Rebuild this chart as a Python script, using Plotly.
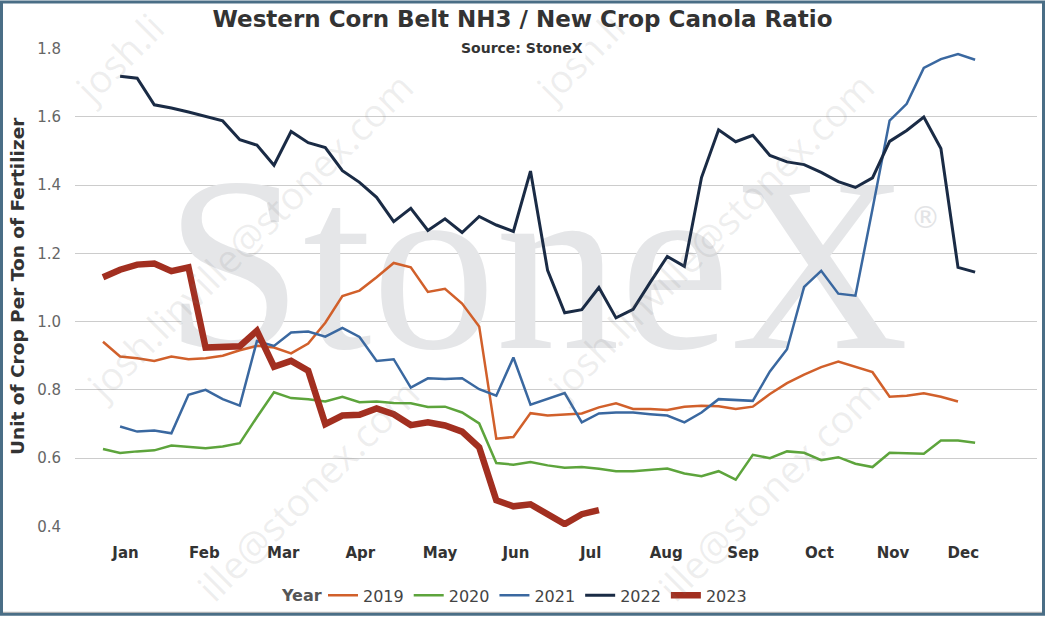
import math
import plotly.graph_objects as go

# ---------------- data ----------------
month_labels = ["Jan", "Feb", "Mar", "Apr", "May", "Jun", "Jul", "Aug", "Sep", "Oct", "Nov", "Dec"]
month_weeks = [2.32, 6.93, 11.54, 16.05, 20.71, 25.15, 29.52, 33.94, 38.44, 42.90, 47.20, 51.31]

years = ["2019", "2020", "2021", "2022", "2023"]

wk_2019 = list(range(1, 52))
val_2019 = [0.941, 0.898, 0.893, 0.885, 0.898, 0.890, 0.893, 0.900, 0.916, 0.929, 0.924, 0.907, 0.936,
            0.997, 1.075, 1.091, 1.130, 1.172, 1.159, 1.087, 1.096, 1.053, 0.986, 0.657, 0.662,
            0.732, 0.725, 0.729, 0.731, 0.749, 0.761, 0.744, 0.744, 0.741, 0.751, 0.754, 0.752,
            0.744, 0.751, 0.788, 0.820, 0.845, 0.867, 0.883, 0.868, 0.852, 0.780, 0.783, 0.790,
            0.780, 0.766]

wk_2020 = list(range(1, 53))
val_2020 = [0.627, 0.615, 0.620, 0.623, 0.637, 0.632, 0.629, 0.634, 0.644, 0.720, 0.793, 0.776, 0.773,
            0.766, 0.780, 0.764, 0.766, 0.762, 0.761, 0.750, 0.751, 0.734, 0.702, 0.586, 0.581,
            0.589, 0.579, 0.572, 0.574, 0.569, 0.562, 0.562, 0.567, 0.570, 0.555, 0.547, 0.562,
            0.537, 0.610, 0.600, 0.620, 0.616, 0.594, 0.603, 0.584, 0.574, 0.616, 0.615, 0.613,
            0.652, 0.652, 0.645]

wk_2021 = list(range(2, 53))
val_2021 = [0.693, 0.678, 0.681, 0.673, 0.786, 0.800, 0.773, 0.754, 0.943, 0.929, 0.968, 0.971, 0.956,
            0.982, 0.955, 0.885, 0.890, 0.807, 0.834, 0.832, 0.834, 0.802, 0.783, 0.895,
            0.757, 0.773, 0.791, 0.705, 0.731, 0.734, 0.734, 0.729, 0.725, 0.705, 0.734, 0.773,
            0.770, 0.768, 0.854, 0.919, 1.102, 1.149, 1.082, 1.076, 1.330, 1.589, 1.638, 1.743,
            1.769, 1.784, 1.767]

wk_2022 = list(range(2, 53))
val_2022 = [1.719, 1.713, 1.635, 1.626, 1.614, 1.602, 1.588, 1.533, 1.517, 1.458, 1.557, 1.524, 1.510,
            1.442, 1.408, 1.364, 1.293, 1.332, 1.267, 1.301, 1.261, 1.308, 1.283, 1.264,
            1.441, 1.150, 1.026, 1.035, 1.100, 1.011, 1.036, 1.115, 1.191, 1.162, 1.422, 1.562,
            1.527, 1.546, 1.487, 1.468, 1.460, 1.437, 1.410, 1.393, 1.421, 1.528, 1.560, 1.599,
            1.507, 1.159, 1.145]

wk_2023 = list(range(1, 31))
val_2023 = [1.130, 1.152, 1.167, 1.170, 1.148, 1.159, 0.924, 0.926, 0.928, 0.973, 0.868, 0.885, 0.856,
            0.700, 0.725, 0.727, 0.746, 0.729, 0.697, 0.705, 0.696, 0.678, 0.632, 0.477, 0.459,
            0.465, 0.438, 0.407, 0.436, 0.448]

series_weeks = [wk_2019, wk_2020, wk_2021, wk_2022, wk_2023]
series_vals = [val_2019, val_2020, val_2021, val_2022, val_2023]
colors = ["#D1602B", "#5DA43C", "#3A68A0", "#1A2B45", "#A22F20"]
widths = [2.5, 2.5, 2.5, 3, 6.5]

# ---------------- figure ----------------
W, H = 1045, 621
ML, MR, MT, MB = 75, 8, 48, 90
PW, PH = W - ML - MR, H - MT - MB


def px_x(px):
    return (px - ML) / PW


def px_y(py):
    return (H - MB - py) / PH


fig = go.Figure()

# watermark "StoneX" (drawn first so lines sit on top)
fig.add_trace(go.Scatter(
    x=[26.37], y=[1.103], mode="text", text=["StoneX"],
    textfont=dict(family="Liberation Serif", size=248, color="#E5E6E8"),
    textposition="middle center", showlegend=False, hoverinfo="skip"))
fig.add_trace(go.Scatter(
    x=[49.1], y=[1.297], mode="text", text=["®"],
    textfont=dict(family="DejaVu Sans", size=30, color="#E3E4E6"),
    textposition="middle center", showlegend=False, hoverinfo="skip"))

for name, xs, ys, c, w in zip(years, series_weeks, series_vals, colors, widths):
    fig.add_trace(go.Scatter(
        x=xs, y=ys, mode="lines", name=name,
        line=dict(color=c, width=w), hoverinfo="skip"))

# diagonal email watermarks (only the parts visible inside the picture)
WM_SIZE = 38.5
WM_FULL = 481.0  # rendered length of the whole address along the diagonal
wm_font = dict(family="Open Sans", size=WM_SIZE, color="rgba(120,120,120,0.12)")
em_per_full = 12.5


def add_wm(text, sx, sy, em_len):
    """place text starting at (sx, sy) along the -45deg diagonal"""
    L = em_len * WM_SIZE
    d = L / 2 / math.sqrt(2)
    fig.add_annotation(x=px_x(sx + d), y=px_y(sy - d), xref="paper", yref="paper",
                       text=text, showarrow=False, textangle=-45,
                       xanchor="center", yanchor="middle", font=wm_font)


half = WM_FULL / 2 / math.sqrt(2)
for cx in (249, 710):
    # top row: only the start is visible
    add_wm("josh.li", cx - half, -72 + half, 2.9)
    # middle row: full address
    add_wm("josh.linville@stonex.com", cx - half, 238 + half, em_per_full)
    # bottom row: only the end is visible
    tail_em = 8.2
    ex, ey = cx + half, 552 - half
    dd = tail_em * WM_SIZE / math.sqrt(2)
    add_wm("ille@stonex.com", ex - dd, ey + dd, tail_em)

# subtitle with white background
fig.add_annotation(
    x=px_x(522), y=px_y(48), xref="paper", yref="paper",
    text="<b>Source: StoneX</b>", showarrow=False, bgcolor="white", borderpad=2,
    xanchor="center", yanchor="middle",
    font=dict(family="DejaVu Sans", size=14, color="#333333"))

# y axis title
fig.add_annotation(
    x=px_x(17), y=px_y(288), xref="paper", yref="paper",
    text="<b>Unit of Crop Per Ton of Fertilizer</b>", showarrow=False, textangle=-90,
    xanchor="center", yanchor="middle",
    font=dict(family="DejaVu Sans", size=18.5, color="#333333"))

# legend title
fig.add_annotation(
    x=px_x(279), y=px_y(600), xref="paper", yref="paper",
    text="<b>Year</b>", showarrow=False, xanchor="left", yanchor="middle",
    font=dict(family="DejaVu Sans", size=16, color="#555555"))

# outer frame
fig.add_shape(type="rect", xref="paper", yref="paper",
              x0=px_x(1.5), x1=px_x(W - 1.5), y0=px_y(H - 2), y1=px_y(1.5),
              line=dict(color="#4A6E86", width=3), fillcolor="rgba(0,0,0,0)", layer="above")
fig.add_shape(type="line", xref="paper", yref="paper",
              x0=px_x(3), x1=px_x(W - 3), y0=px_y(H - 4), y1=px_y(H - 4),
              line=dict(color="#A8A8A8", width=1), layer="above")

fig.update_layout(
    width=W, height=H,
    margin=dict(l=ML, r=MR, t=MT, b=MB),
    paper_bgcolor="white", plot_bgcolor="white",
    font=dict(family="DejaVu Sans", color="#333333"),
    title=dict(text="<b>Western Corn Belt NH3 / New Crop Canola Ratio</b>",
               x=0.5, xanchor="center", y=1 - 19 / H, yanchor="middle",
               font=dict(family="DejaVu Sans", size=23, color="#333333")),
    xaxis=dict(range=[-0.637, 55.62], tickmode="array", tickvals=month_weeks, ticktext=month_labels,
               showgrid=False, zeroline=False, showline=False,
               ticks="outside", ticklen=12, tickcolor="rgba(0,0,0,0)",
               tickfont=dict(family="DejaVu Sans", size=15, color="#333333", weight="bold")),
    yaxis=dict(range=[0.3985, 1.8015], tickmode="array", tickvals=[0.4, 0.6, 0.8, 1.0, 1.2, 1.4, 1.6, 1.8],
               ticktext=["0.4", "0.6", "0.8", "1.0", "1.2", "1.4", "1.6", "1.8"],
               showgrid=True, gridcolor="#CCCCCC", gridwidth=1, zeroline=False, showline=False,
               ticks="outside", ticklen=10, tickcolor="rgba(0,0,0,0)",
               tickfont=dict(family="DejaVu Sans", size=15, color="#666666")),
    legend=dict(orientation="h", x=px_x(323), xanchor="left", y=px_y(600), yanchor="middle",
                font=dict(family="DejaVu Sans", size=16, color="#444444"),
                itemwidth=30, bgcolor="rgba(0,0,0,0)"),
    showlegend=True,
)

fig.write_html("out.html", config={"displayModeBar": False},
               post_script="document.body.style.margin='0';")
